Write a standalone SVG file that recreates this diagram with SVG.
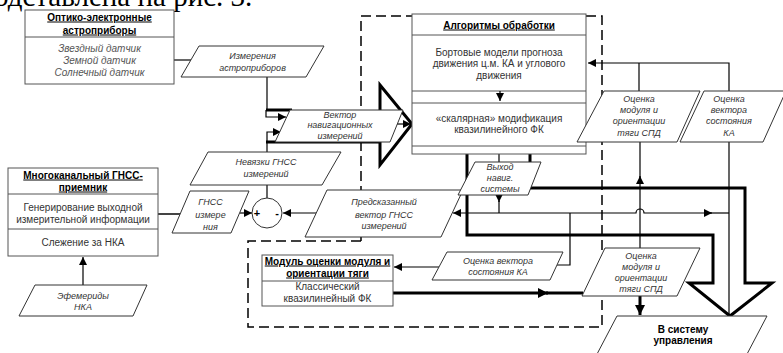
<svg xmlns="http://www.w3.org/2000/svg" width="783" height="353" viewBox="0 0 783 353">
<style>
text{font-family:"Liberation Sans",Arial,sans-serif;text-anchor:middle}
.hd{font-size:10px;font-weight:bold;fill:#000;text-decoration:underline}
.bd{font-size:10px;fill:#333}
.bi{font-size:10px;fill:#555;font-style:italic}
.pi{font-size:9px;fill:#333;font-style:italic}
.box{fill:#fff;stroke:#555;stroke-width:1}
.sep{stroke:#555;stroke-width:1}
.par{fill:#fff;stroke:#333;stroke-width:1}
.ln{fill:none;stroke:#000;stroke-width:1.2}
.thk{fill:none;stroke:#000;stroke-width:3;stroke-linejoin:miter}
.dash{fill:none;stroke:#000;stroke-width:1.5;stroke-dasharray:10,5}
</style>
<defs>
<marker id="ah" markerWidth="8" markerHeight="8" refX="8" refY="4" orient="auto" markerUnits="userSpaceOnUse"><path d="M0,0 L8,4 L0,8 z" fill="#000"/></marker>
<marker id="ahb" markerWidth="10" markerHeight="10" refX="10" refY="5" orient="auto" markerUnits="userSpaceOnUse"><path d="M0,0 L10,5 L0,10 z" fill="#000"/></marker>
</defs>
<rect width="783" height="353" fill="#fff"/>
<g id="page-text"><text x="-6" y="5.5" style="font-family:'Liberation Serif','Times New Roman',serif;font-size:29px;text-anchor:start;fill:#000">одставлена на рис. 3.</text></g>
<g id="frame"><path class="dash" d="M361,241 V16 H602 V327 H248 V241 H361"/></g>
<g id="connectors">
<path class="ln" d="M174,60 H191"/>
<path class="ln" d="M267,77 V110"/>
<path class="ln" d="M266,110 V117 H286" marker-end="url(#ah)"/>
<path class="ln" d="M267,152 V132 H281" marker-end="url(#ah)"/>
<path class="ln" d="M396,124 H411" marker-end="url(#ah)"/>
<path class="thk" d="M292,110 H266"/>
<path class="thk" d="M380,110 V85 L412,124 L380,165 V142 H266"/>
<path d="M158,214 H181" fill="none" stroke="#444" stroke-width="2"/>
<path class="ln" d="M240,213 H252" marker-end="url(#ah)"/>
<path class="ln" d="M316,213 H283" marker-end="url(#ah)"/>
<path class="ln" d="M267,185 V198"/>
<path class="ln" d="M83,285 V257" marker-end="url(#ah)"/>
<path class="ln" d="M499,154 V162"/>
<path class="ln" d="M499,195 V202" marker-end="url(#ah)"/>
<path class="ln" d="M499,201 V213"/>
<path class="ln" d="M499,213 H453" marker-end="url(#ah)"/>
<path class="ln" d="M499,213 H636 a4,4 0 0 1 8,0 H712" marker-end="url(#ah)"/>
<path class="ln" d="M710,213 H729"/>
<path class="ln" d="M570,213 V265 H557"/>
<path class="ln" d="M729,142 V316"/>
<path class="ln" d="M640,248 V176" marker-end="url(#ah)"/>
<path class="ln" d="M640,178 V142"/>
<path class="ln" d="M639,91 V63"/>
<path class="ln" d="M729,91 V63 H588" marker-end="url(#ah)"/>
<path class="ln" d="M439,267 H394" marker-end="url(#ah)"/>
<path class="thk" d="M393,293 H548" marker-end="url(#ahb)"/>
<path class="thk" d="M546,293 H583"/>
<path class="thk" d="M640,296 V315" marker-end="url(#ahb)"/>
<path class="thk" d="M467,154 V235 H713 V283 H689 L730,316 L772,283 H745 V188 H530 V154"/>
</g>
<g id="n-optical">
<rect class="box" x="25" y="10" width="149" height="74"/>
<line class="sep" x1="25" y1="37" x2="174" y2="37"/>
<text class="hd" x="99.5" y="20.5">Оптико-электронные</text>
<text class="hd" x="99.5" y="33.5">астроприборы</text>
<text class="bi" x="99.5" y="51.5">Звездный датчик</text>
<text class="bi" x="99.5" y="63.5">Земной датчик</text>
<text class="bi" x="99.5" y="75.5">Солнечный датчик</text>
</g>
<g id="n-astro-meas">
<polygon class="par" points="199,46 324,46 306,77 181,77"/>
<text class="pi" x="252.5" y="58.5">Измерения</text>
<text class="pi" x="252.5" y="70.5">астроприборов</text>
</g>
<g id="n-nav-vector">
<polygon class="par" points="290,110 403,110 390,142 275,142"/>
<text class="pi" x="340" y="117.5">Вектор</text>
<text class="pi" x="340" y="128">навигационных</text>
<text class="pi" x="340" y="138.5">измерений</text>
</g>
<g id="n-algorithms">
<rect class="box" x="412" y="14" width="174" height="140"/>
<line class="sep" x1="412" y1="35" x2="586" y2="35"/>
<line class="sep" x1="412" y1="91" x2="586" y2="91"/>
<line class="sep" x1="412" y1="103" x2="586" y2="103"/>
<line class="sep" x1="412" y1="146" x2="586" y2="146"/>
<text class="hd" x="499" y="28.5">Алгоритмы обработки</text>
<text class="bd" x="499" y="55.5">Бортовые модели прогноза</text>
<text class="bd" x="499" y="67">движения ц.м. КА и углового</text>
<text class="bd" x="499" y="78.5">движения</text>
<path class="ln" d="M500,91 V101" marker-end="url(#ah)"/>
<text class="bd" x="499" y="121.5">«скалярная» модификация</text>
<text class="bd" x="499" y="132.5">квазилинейного ФК</text>
</g>
<g id="n-gnss-receiver">
<rect class="box" x="8" y="168" width="150" height="88"/>
<line class="sep" x1="8" y1="194" x2="158" y2="194"/>
<line class="sep" x1="8" y1="229" x2="158" y2="229"/>
<text class="hd" x="83" y="178.5">Многоканальный ГНСС-</text>
<text class="hd" x="83" y="190.5">приемник</text>
<text class="bd" x="83" y="211">Генерирование выходной</text>
<text class="bd" x="83" y="223">измерительной информации</text>
<text class="bd" x="83" y="246">Слежение за НКА</text>
</g>
<g id="n-gnss-meas">
<polygon class="par" points="190,191 249,191 231,233 172,233"/>
<text class="pi" x="210.5" y="205">ГНСС</text>
<text class="pi" x="210.5" y="218">измере</text>
<text class="pi" x="210.5" y="230">ния</text>
</g>
<g id="n-sum">
<circle cx="267" cy="213" r="15" fill="#fff" stroke="#333" stroke-width="1"/>
<text x="257" y="217" style="font-size:11px;font-weight:bold">+</text>
<text x="277" y="217" style="font-size:11px;font-weight:bold">-</text>
</g>
<g id="n-residuals">
<polygon class="par" points="208,152 341,152 322,185 190,185"/>
<text class="pi" x="266" y="165">Невязки ГНСС</text>
<text class="pi" x="266" y="176.5">измерений</text>
</g>
<g id="n-predicted">
<polygon class="par" points="327,190 463,190 441,237 305,237"/>
<text class="pi" x="384" y="205">Предсказанный</text>
<text class="pi" x="384" y="217.5">вектор ГНСС</text>
<text class="pi" x="384" y="229">измерений</text>
</g>
<g id="n-nav-output">
<polygon class="par" points="475,162 541,162 528,195 458,195"/>
<text class="pi" x="500" y="170">Выход</text>
<text class="pi" x="500" y="181">навиг.</text>
<text class="pi" x="500" y="192">системы</text>
</g>
<g id="n-thrust-est-1">
<polygon class="par" points="604,91 700,91 677,142 577,142"/>
<text class="pi" x="639" y="102">Оценка</text>
<text class="pi" x="639" y="113">модуля и</text>
<text class="pi" x="639" y="124">ориентации</text>
<text class="pi" x="639" y="136">тяги СПД</text>
</g>
<g id="n-state-est-1">
<polygon class="par" points="704,91 786,91 763,142 680,142"/>
<text class="pi" x="729" y="102">Оценка</text>
<text class="pi" x="729" y="113">вектора</text>
<text class="pi" x="729" y="124">состояния</text>
<text class="pi" x="729" y="136">КА</text>
</g>
<g id="n-state-est-2">
<polygon class="par" points="447,252 563,252 550,280 432,280"/>
<text class="pi" x="498" y="264">Оценка вектора</text>
<text class="pi" x="498" y="274.5">состояния КА</text>
</g>
<g id="n-thrust-module">
<rect class="box" x="262" y="255" width="131" height="51"/>
<line class="sep" x1="262" y1="281" x2="393" y2="281"/>
<text class="hd" x="327.5" y="264.5">Модуль оценки модуля и</text>
<text class="hd" x="327.5" y="276.5">ориентации тяги</text>
<text class="bd" x="327.5" y="289.5">Классический</text>
<text class="bd" x="327.5" y="301.5">квазилинейный ФК</text>
</g>
<g id="n-thrust-est-2">
<polygon class="par" points="605,248 700,248 677,296 582,296"/>
<text class="pi" x="641" y="258.5">Оценка</text>
<text class="pi" x="641" y="269.5">модуля и</text>
<text class="pi" x="641" y="281">ориентации</text>
<text class="pi" x="641" y="291.5">тяги СПД</text>
</g>
<g id="n-ephemeris">
<polygon class="par" points="35,285 147,285 133,316 19,316"/>
<text class="pi" x="83" y="298.5">Эфемериды</text>
<text class="pi" x="83" y="309.5">НКА</text>
</g>
<g id="n-control">
<polygon class="par" points="617,316 767,316 746,356 596,356"/>
<text x="683" y="332.5" style="font-size:10px;font-weight:bold">В систему</text>
<text x="683" y="344" style="font-size:10px;font-weight:bold">управления</text>
</g>
</svg>
